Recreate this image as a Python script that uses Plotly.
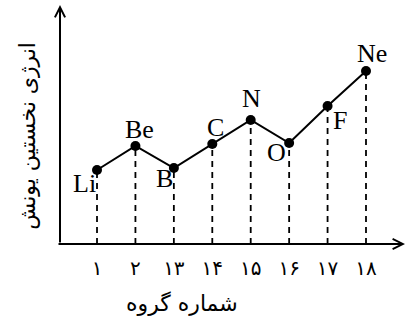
import plotly.graph_objects as go

# داده‌ها (ارتفاع‌ها طرح‌وار، خوانده‌شده از تصویر)
elements = ["Li", "Be", "B", "C", "N", "O", "F", "Ne"]
groups = ["۱", "۲", "۱۳", "۱۴", "۱۵", "۱۶", "۱۷", "۱۸"]
energy = [74, 98, 76, 100, 124, 101, 138, 173]

# جابجایی برچسب عنصرها نسبت به نقطه (پیکسل)
shift_x = [-13, 4, -9, 3, 1, -13, 12, 6]
shift_y = [-13, 17, -10, 17, 22, -9, -14, 18]

idx = list(range(len(elements)))

# خطوط عمودی خط‌چین از هر نقطه تا محور
dx, dy = [], []
for i, e in zip(idx, energy):
    dx += [i, i, None]
    dy += [0, e, None]

fig = go.Figure()
fig.add_trace(go.Scatter(
    x=dx, y=dy, mode="lines",
    line=dict(color="black", width=1.8, dash="6px,5px"),
    hoverinfo="skip"
))
fig.add_trace(go.Scatter(
    x=idx, y=energy, mode="lines+markers",
    line=dict(color="black", width=2),
    marker=dict(size=10, color="black")
))

for i, el in enumerate(elements):
    fig.add_annotation(x=idx[i], y=energy[i], text=el, showarrow=False,
                       xshift=shift_x[i], yshift=shift_y[i],
                       font=dict(family="Liberation Serif", size=26, color="black"))

# محورها با فلش
fig.add_annotation(x=1, y=0, xref="paper", yref="paper", ax=-348, ay=0,
                   showarrow=True, arrowhead=5, arrowsize=1, arrowwidth=2,
                   arrowcolor="black", text="")
fig.add_annotation(x=0, y=1.013, xref="paper", yref="paper", ax=0, ay=239,
                   showarrow=True, arrowhead=5, arrowsize=1, arrowwidth=2,
                   arrowcolor="black", text="")

fig.add_annotation(x=0.354, y=-0.25, xref="paper", yref="paper", yanchor="middle",
                   text="شماره گروه", showarrow=False,
                   font=dict(family="DejaVu Sans", size=22, color="black"))
fig.add_annotation(x=-0.135, y=0.46, xref="paper", yref="paper",
                   text="انرژی نخستین یونش", showarrow=False, textangle=-90,
                   font=dict(family="DejaVu Sans", size=22, color="black"))

fig.update_layout(
    width=408, height=322,
    margin=dict(l=60, r=3, t=8, b=78),
    plot_bgcolor="white", paper_bgcolor="white",
    showlegend=False,
    xaxis=dict(range=[-0.963, 8.015], tickmode="array", tickvals=idx,
               ticktext=groups, showgrid=False, zeroline=False, showline=False,
               ticks="", ticklabelstandoff=10,
               tickfont=dict(family="DejaVu Sans", size=20, color="black")),
    yaxis=dict(range=[0, 236], showgrid=False, zeroline=False, showline=False,
               showticklabels=False, ticks=""),
)

fig.write_html("out.html", config={"displayModeBar": False},
               post_script="document.body.style.margin='0';")
